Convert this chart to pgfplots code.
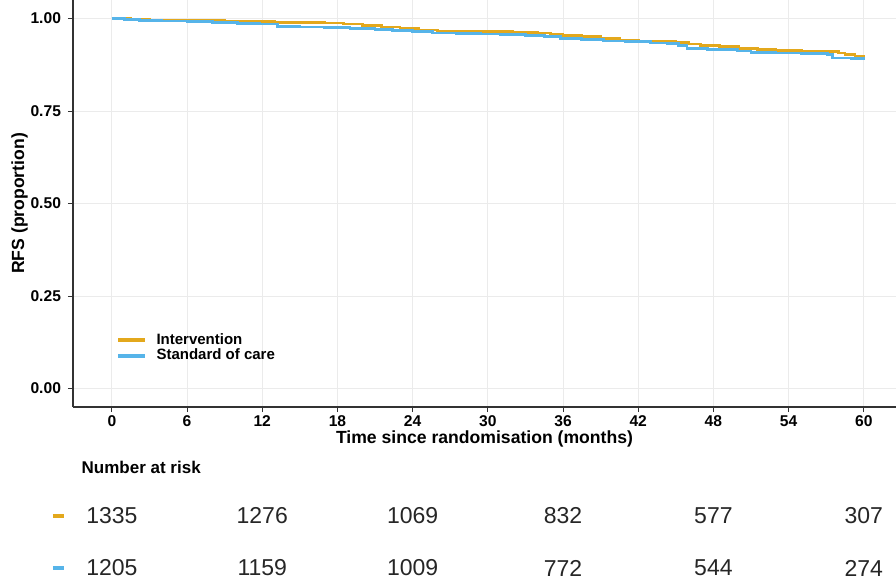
\documentclass[border=0pt]{standalone}
\usepackage{pgfplots}
\pgfplotsset{compat=1.18}
\usepackage{pgfplotstable}
\usepackage{fontspec}
\setmainfont{Liberation Sans}
\definecolor{interv}{HTML}{E3A81C}
\definecolor{soc}{HTML}{56B4E9}
\definecolor{gridc}{HTML}{EBEBEB}
\definecolor{axc}{HTML}{333333}

\pgfplotstableread{
x y
0 1.000
1.5 0.998
3 0.996
5 0.995
7 0.994
9 0.993
11 0.992
13 0.990
15 0.989
17 0.988
18.5 0.985
20 0.981
21.5 0.977
23 0.972
24.5 0.969
26 0.966
28 0.965
30 0.964
32 0.963
34 0.961
35 0.958
36 0.955
37.5 0.951
39 0.946
40.5 0.941
42 0.939
44 0.939
45 0.936
46 0.931
47 0.927
48.5 0.924
50 0.920
51.5 0.917
53 0.914
55 0.912
57 0.910
58 0.907
58.5 0.902
59.3 0.898
60 0.896
}\intervtab

\pgfplotstableread{
x y
0 1.000
1 0.998
2.2 0.995
4 0.993
6 0.991
8 0.989
10 0.987
11.8 0.985
13.2 0.979
15 0.977
17 0.975
19 0.972
21 0.970
22.4 0.968
24 0.964
25.6 0.961
27.5 0.959
29.4 0.958
31 0.957
33 0.955
34.5 0.951
35.8 0.947
37.5 0.943
39.2 0.939
41 0.937
43 0.934
44.3 0.932
45.2 0.926
45.9 0.918
47.5 0.916
49.9 0.912
51 0.909
53 0.907
55 0.905
57.1 0.902
57.5 0.893
59 0.891
60 0.887
}\soctab

\pgfplotstableread{
x y lab
0 2 1335
12 2 1276
24 2 1069
36 2 832
48 2 577
60 2 307
0 1 1205
12 1 1159
24 1 1009
36 1 772
48 1 544
60 1 274
}\risktab

\begin{document}
\begin{tikzpicture}
\useasboundingbox (0pt,0pt) rectangle (448pt,-290pt);
\begin{axis}[
  at={(36.5pt,-203.5pt)}, anchor=south west,
  scale only axis, width=411.5pt, height=203.5pt,
  xmin=-3.1, xmax=62.57, ymin=-0.05, ymax=1.05,
  axis lines*=left,
  axis line style={axc, line width=0.6pt},
  xtick={0,6,...,60},
  ytick={0,0.25,0.5,0.75,1},
  yticklabels={0.00,0.25,0.50,0.75,1.00},
  tick style={axc, line width=0.5pt},
  tick align=outside, major tick length=2.5pt,
  grid=major, grid style={gridc, line width=0.5pt},
  /pgf/number format/assume math mode=true,
  ticklabel style={font=\fontsize{7.8}{9}\selectfont\bfseries, text=black},
  xticklabel style={yshift=1.5pt},
  xlabel={Time since randomisation (months)},
  ylabel={RFS (proportion)},
  label style={font=\fontsize{8.8}{10}\selectfont\bfseries},
  xlabel style={yshift=5pt},
  ylabel style={yshift=-5.5pt},
  legend style={at={(0.045,0.202)}, anchor=north west, draw=none, fill=none,
    font=\fontsize{7.5}{8}\selectfont\bfseries, row sep=-3pt,
    legend cell align=left},
  legend image code/.code={\draw[#1, line width=1.7pt] (0pt,0pt) -- (13.5pt,0pt); \path (16.5pt,0pt);},
]
\addplot[interv, line width=1.4pt, const plot] table[x=x,y=y] {\intervtab};
\addlegendentry{Intervention}
\addplot[soc, line width=1.4pt, const plot] table[x=x,y=y] {\soctab};
\addlegendentry{Standard of care}
\end{axis}

\begin{axis}[
  at={(36.5pt,-290pt)}, anchor=south west,
  scale only axis, width=411.5pt, height=45pt,
  xmin=-3.1, xmax=62.57, ymin=0.77, ymax=2.5,
  axis lines=none, clip=false,
  xtick={0,12,...,60}, ytick={1,2},
  grid=major, grid style={gridc!60, line width=0.4pt},
]
\addplot[only marks, mark=none, nodes near coords, point meta=explicit symbolic,
  nodes near coords style={anchor=center, font=\fontsize{11.5}{12}\selectfont, text=black!85}]
  table[x=x, y=y, meta=lab] {\risktab};
\addplot[interv, line width=2pt] coordinates {(-4.7,2) (-3.8,2)};
\addplot[soc, line width=2pt] coordinates {(-4.7,1) (-3.8,1)};
\node[anchor=west, font=\fontsize{8.5}{10}\selectfont\bfseries] at (rel axis cs:0.002,1.256) {Number at risk};
\end{axis}
\end{tikzpicture}
\end{document}
